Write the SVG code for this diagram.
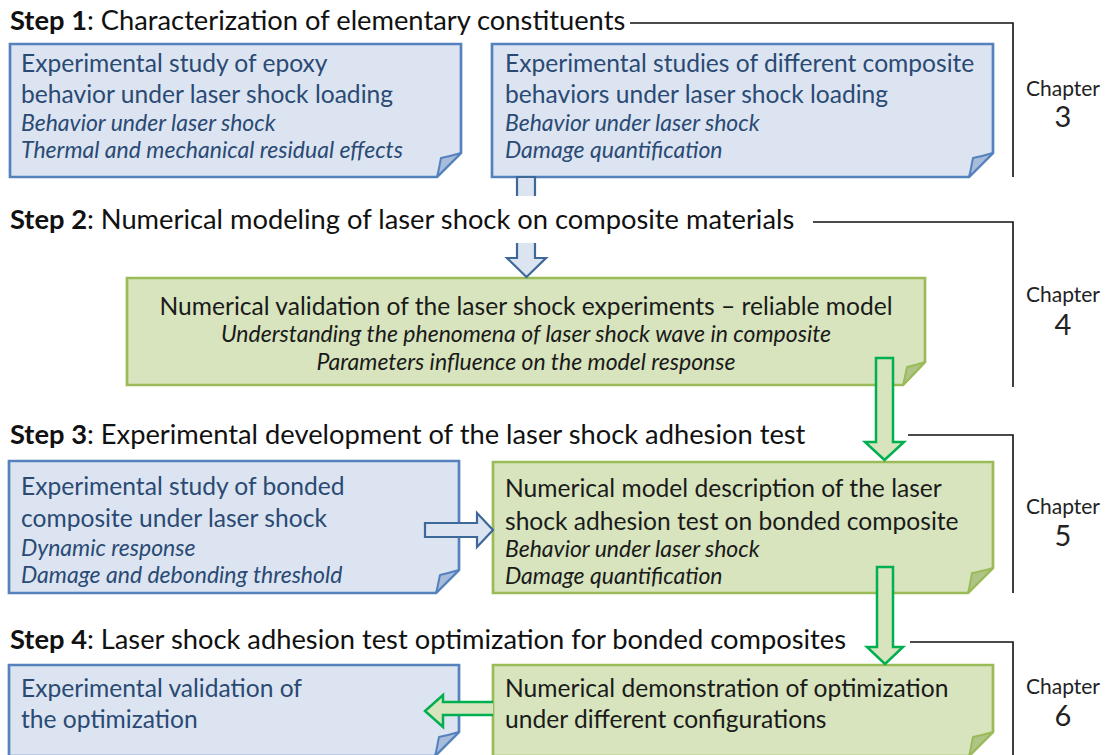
<svg xmlns="http://www.w3.org/2000/svg" width="1107" height="755" viewBox="0 0 1107 755">
<style>
text{font-family:Lato,"Liberation Sans",sans-serif}
.hd{font-size:27.3px;fill:#111}
.bm{font-size:24.6px;fill:#2a4a74}
.bi{font-size:23px;font-style:italic;fill:#2a4a74}
.gm{font-size:24.6px;fill:#1a1a1a}
.gi{font-size:23px;font-style:italic;fill:#1a1a1a}
.ch{font-size:21px;fill:#222;text-anchor:middle}
.cn{font-size:29px;fill:#222;text-anchor:middle}
.bb{fill:#dbe4f0;stroke:#5582bd;stroke-width:2.7}
.bf{fill:#a7bcdb;stroke:#5582bd;stroke-width:2;stroke-linejoin:round}
.gb{fill:#d7e4bd;stroke:#9bbb59;stroke-width:2.7}
.gf{fill:#afc487;stroke:#9bbb59;stroke-width:2;stroke-linejoin:round}
.ln{fill:none;stroke:#111;stroke-width:1.6}
.ba{fill:#dbe4f0;stroke:#3e6898;stroke-width:2.2;stroke-linejoin:miter}
.ga{fill:#d7e4bd;stroke:#00b050;stroke-width:2.5;stroke-linejoin:miter}
</style>
<rect width="1107" height="755" fill="#fff"/>

<g id="box1">
<path class="bb" d="M10,44 H461 V153 L437,177 H10 Z"/>
<path class="bf" d="M437,177 C439,170 440,162 441,158 C446,157 454,155 461,153 Z"/>
<text class="bm" x="21" y="72">Experimental study of epoxy</text>
<text class="bm" x="21" y="103">behavior under laser shock loading</text>
<text class="bi" x="21" y="131">Behavior under laser shock</text>
<text class="bi" x="21" y="158">Thermal and mechanical residual effects</text>
</g>

<g id="box2">
<path class="bb" d="M492,44 H993 V153 L969,177 H492 Z"/>
<path class="bf" d="M969,177 C971,170 972,162 973,158 C978,157 986,155 993,153 Z"/>
<text class="bm" x="505" y="72">Experimental studies of different composite</text>
<text class="bm" x="505" y="103">behaviors under laser shock loading</text>
<text class="bi" x="505" y="131">Behavior under laser shock</text>
<text class="bi" x="505" y="158">Damage quantification</text>
</g>

<g id="box_step2">
<path class="gb" d="M127,278 H925 V362 L903,385 H127 Z"/>
<path class="gf" d="M903,385 C905,378 906,371 907,367 C912,366 919,364 925,362 Z"/>
</g>

<g id="box3_left">
<path class="bb" d="M9,461 H459 V570 L436,593 H9 Z"/>
<path class="bf" d="M436,593 C438,586 439,579 440,575 C445,574 452,572 459,570 Z"/>
<text class="bm" x="21" y="495">Experimental study of bonded</text>
<text class="bm" x="21" y="527">composite under laser shock</text>
<text class="bi" x="21" y="556">Dynamic response</text>
<text class="bi" x="21" y="583">Damage and debonding threshold</text>
</g>

<g id="box3_right">
<path class="gb" d="M493,462 H993 V568 L968,593 H493 Z"/>
<path class="gf" d="M968,593 C970,585 971,578 972,573 C978,572 986,570 993,568 Z"/>
</g>

<g id="box4_left">
<path class="bb" d="M9,665 H459 V732 L435,756 H9 Z"/>
<path class="bf" d="M435,756 C437,749 438,741 439,737 C444,736 452,734 459,732 Z"/>
<text class="bm" x="21" y="697">Experimental validation of</text>
<text class="bm" x="21" y="728">the optimization</text>
</g>

<g id="box4_right">
<path class="gb" d="M493,665 H993 V732 L969,756 H493 Z"/>
<path class="gf" d="M969,756 C971,749 972,741 973,737 C978,736 986,734 993,732 Z"/>
</g>

<g id="connectors">
<path class="ba" d="M517,177 V258 H507 L526.5,277 L546,258 H535 V177 Z"/>
<path class="ga" d="M876,358 H893 V442 H904 L884.5,460 L865,442 H876 Z"/>
<path class="ga" d="M877,567 H893 V647 H903 L885,664 L867,647 H877 Z"/>
<path class="ba" d="M425,523 H477 V513 L493,530 L477,547 V537 H425 Z"/>
<path class="ga" d="M493,702 H443 V695 L425,711 L443,727 V715 H493"/>
<path class="ln" d="M630,23 H1013 V177"/>
<path class="ln" d="M813,222 H1013 V387"/>
<path class="ln" d="M908,435 H1013 V593"/>
<path class="ln" d="M910,642 H1013 V756"/>
</g>

<rect x="5" y="196" width="800" height="47" fill="#fff"/>

<g id="green_texts">
<text class="gm" x="526" y="315" text-anchor="middle">Numerical validation of the laser shock experiments – reliable model</text>
<text class="gi" x="526" y="342" text-anchor="middle">Understanding the phenomena of laser shock wave in composite</text>
<text class="gi" x="526" y="370" text-anchor="middle">Parameters influence on the model response</text>
<text class="gm" x="505" y="497">Numerical model description of the laser</text>
<text class="gm" x="505" y="530">shock adhesion test on bonded composite</text>
<text class="gi" x="505" y="557">Behavior under laser shock</text>
<text class="gi" x="505" y="584">Damage quantification</text>
<text class="gm" x="505" y="697">Numerical demonstration of optimization</text>
<text class="gm" x="505" y="728">under different configurations</text>
</g>

<g id="steps">
<text class="hd" x="10" y="30"><tspan font-weight="bold">Step 1</tspan>: Characterization of elementary constituents</text>
<text class="hd" x="10" y="229"><tspan font-weight="bold">Step 2</tspan>: Numerical modeling of laser shock on composite materials</text>
<text class="hd" x="10" y="444"><tspan font-weight="bold">Step 3</tspan>: Experimental development of the laser shock adhesion test</text>
<text class="hd" x="10" y="649"><tspan font-weight="bold">Step 4</tspan>: Laser shock adhesion test optimization for bonded composites</text>
</g>

<g id="chapters">
<text class="ch" x="1063" y="96">Chapter</text><text class="cn" x="1063" y="127">3</text>
<text class="ch" x="1063" y="302">Chapter</text><text class="cn" x="1063" y="335">4</text>
<text class="ch" x="1063" y="514">Chapter</text><text class="cn" x="1063" y="546">5</text>
<text class="ch" x="1063" y="694">Chapter</text><text class="cn" x="1063" y="726">6</text>
</g>
</svg>
